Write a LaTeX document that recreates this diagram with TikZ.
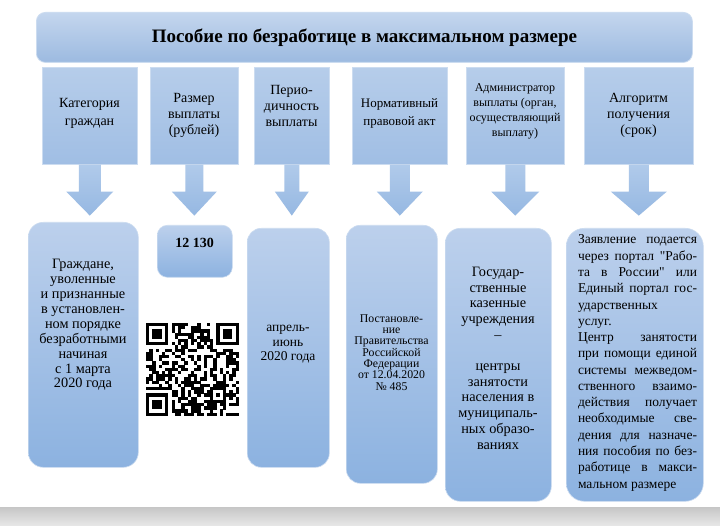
\documentclass[tikz,border=0pt]{standalone}
\usepackage{fontspec}
\setmainfont{Liberation Serif}
\newfontfamily\plainq{Liberation Serif}[Ligatures=TeXOff]
\usetikzlibrary{calc}
\definecolor{hdrT}{RGB}{196,214,238}
\definecolor{hdrB}{RGB}{156,186,224}
\definecolor{topT}{RGB}{182,205,234}
\definecolor{topB}{RGB}{160,190,228}
\definecolor{botT}{RGB}{188,208,236}
\definecolor{botB}{RGB}{140,178,224}
\definecolor{arrT}{RGB}{176,202,234}
\definecolor{arrB}{RGB}{150,184,226}
\definecolor{edgec}{RGB}{204,220,240}
\definecolor{bandA}{RGB}{198,198,198}
\definecolor{bandB}{RGB}{232,232,232}
\newcommand\cbox[1]{\vbox{\hsize=160pt\parindent=0pt\centering #1\par}}
\newcommand\jline[1]{\hbox to 119pt{#1}}
\newcommand\lline[1]{\hbox to 119pt{#1\hfil}}
\newcommand\qd{{\plainq "}}
\newcommand\blockarrow[3]{\path[blockarr] ($(#1.south)+(-#2,0)$) -- ++(0,27) -- ++({#2-#3},0) -- ++(#3,24) -- ++(#3,-24) -- ++({#2-#3},0) -- ++(0,-27) -- cycle;}
\begin{document}
\begin{tikzpicture}[x=1pt,y=-1pt,
  hdr/.style={draw=edgec, line width=0.8pt, rounded corners=9pt, top color=hdrT, bottom color=hdrB, anchor=north west, inner sep=0pt},
  topbox/.style={draw=edgec, line width=0.6pt, top color=topT, bottom color=topB, anchor=north west, inner sep=0pt},
  botbox/.style={draw=edgec, line width=0.6pt, top color=botT, bottom color=botB, anchor=north west, inner sep=0pt},
  blockarr/.style={top color=arrT, bottom color=arrB},
  txt/.style={inner sep=0pt, anchor=base},
  qrmod/.style={fill=black}
]
\useasboundingbox (0,0) rectangle (720,526);
\fill[white] (0,0) rectangle (720,526);
\fill[top color=bandA, bottom color=bandB] (0,507) rectangle (720,526);

% header
\node[hdr, minimum width=656pt, minimum height=50pt, font=\bfseries\fontsize{19}{22}\selectfont] (hdr) at (36,12) {Пособие по безработице в максимальном размере};

% top boxes
\node[topbox, minimum width=95pt, minimum height=97pt] (t1) at (42,67) {};
\node[topbox, minimum width=88pt, minimum height=97pt] (t2) at (150,67) {};
\node[topbox, minimum width=75pt, minimum height=97pt] (t3) at (254,67) {};
\node[topbox, minimum width=95pt, minimum height=97pt] (t4) at (352,67) {};
\node[topbox, minimum width=98pt, minimum height=97pt] (t5) at (466,67) {};
\node[topbox, minimum width=109pt, minimum height=97pt] (t6) at (584,67) {};

\node[txt, font=\fontsize{14}{18}\selectfont] (t1t) at (89.5,126) {\cbox{Категория\\граждан}};
\node[txt, font=\fontsize{14}{16.2}\selectfont] (t2t) at (194,135) {\cbox{Размер\\выплаты\\(рублей)}};
\node[txt, font=\fontsize{14}{16}\selectfont] (t3t) at (291.5,127) {\cbox{Перио-\\дичность\\выплаты}};
\node[txt, font=\fontsize{13}{18}\selectfont] (t4t) at (399.5,126) {\cbox{Нормативный\\правовой акт}};
\node[txt, font=\fontsize{12}{15}\selectfont] (t5t) at (515,137) {\cbox{Администратор\\выплаты (орган,\\осуществляющий\\выплату)}};
\node[txt, font=\fontsize{14}{16.2}\selectfont] (t6t) at (638.5,135) {\cbox{Алгоритм\\получения\\(срок)}};

% arrows
\blockarrow{t1}{11}{23.5}
\blockarrow{t2}{9}{22.5}
\blockarrow{t3}{7.5}{17}
\blockarrow{t4}{10}{23}
\blockarrow{t5}{10}{24}
\blockarrow{t6}{10}{28}

% bottom boxes
\node[botbox, rounded corners=15pt, minimum width=110pt, minimum height=245pt] (b1) at (28,222) {};
\node[botbox, rounded corners=10pt, minimum width=75pt, minimum height=52pt] (b2) at (157,225) {};
\node[botbox, rounded corners=14pt, minimum width=82pt, minimum height=239pt] (b3) at (247,228) {};
\node[botbox, rounded corners=14pt, minimum width=91pt, minimum height=258pt] (b4) at (346,225) {};
\node[botbox, rounded corners=15pt, minimum width=106pt, minimum height=273pt] (b5) at (445,228) {};
\node[botbox, rounded corners=18pt, minimum width=137pt, minimum height=273pt] (b6) at (566,228) {};

\node[txt, font=\fontsize{14.3}{14.9}\selectfont] (b1t) at (83,388) {\cbox{Граждане,\\уволенные\\и признанные\\в установлен-\\ном порядке\\безработными\\начиная\\с 1 марта\\2020 года}};
\node[txt, font=\bfseries\fontsize{14}{16}\selectfont] (b2t) at (194.5,248) {12 130};
\node[txt, font=\fontsize{13.5}{14.5}\selectfont] (b3t) at (288,361) {\cbox{апрель-\\июнь\\2020 года}};
\node[txt, font=\fontsize{11.8}{11.3}\selectfont] (b4t) at (391.5,390) {\cbox{Постановле-\\ние\\Правительства\\Российской\\Федерации\\от 12.04.2020\\№ 485}};
\node[txt, font=\fontsize{14.3}{15.7}\selectfont] (b5t) at (498,449) {\cbox{Государ-\\ственные\\казенные\\учреждения\\–\\\mbox{}\\центры\\занятости\\населения в\\муниципаль-\\ных образо-\\ваниях}};
\node[txt, font=\fontsize{13.5}{16.27}\selectfont] (b6t) at (637.5,488) {\vbox{%
\jline{Заявление подается}
\jline{через портал \qd Рабо-}
\jline{та в России\qd\ или}
\jline{Единый портал гос-}
\lline{ударственных}
\lline{услуг.}
\jline{Центр занятости}
\jline{при помощи единой}
\jline{системы межведом-}
\jline{ственного взаимо-}
\jline{действия получает}
\jline{необходимые све-}
\jline{дения для назначе-}
\jline{ния пособия по без-}
\jline{работице в макси-}
\lline{мальном размере}}};

% QR code
\begin{scope}[shift={(146,323)}]
  \pgfmathsetseed{20200412}
  \foreach \i in {0,...,28}{
    \foreach \j in {0,...,28}{
      \pgfmathtruncatemacro\sk{((\i<8)&&(\j<8)) || ((\i>20)&&(\j<8)) || ((\i<8)&&(\j>20)) || ((\i>19)&&(\i<25)&&(\j>19)&&(\j<25)) || (\i==6) || (\j==6)}
      \ifnum\sk=0
        \pgfmathrandominteger{\rr}{0}{1}
        \ifnum\rr=1 \fill[qrmod] (\i*3.2,\j*3.2) rectangle ++(3.3,3.3);\fi
      \fi
    }
  }
  \foreach \k in {8,10,...,20}{
    \fill[qrmod] (\k*3.2,6*3.2) rectangle ++(3.3,3.3);
    \fill[qrmod] (6*3.2,\k*3.2) rectangle ++(3.3,3.3);
  }
  \foreach \p/\q in {0/0,70.4/0,0/70.4}{
    \fill[qrmod] (\p,\q) rectangle ++(22.4,22.4);
    \fill[white] (\p+3.2,\q+3.2) rectangle ++(16,16);
    \fill[qrmod] (\p+6.4,\q+6.4) rectangle ++(9.6,9.6);
  }
  \fill[qrmod] (64,64) rectangle ++(16,16);
  \fill[white] (67.2,67.2) rectangle ++(9.6,9.6);
  \fill[qrmod] (70.4,70.4) rectangle ++(3.2,3.2);
\end{scope}
\end{tikzpicture}
\end{document}
